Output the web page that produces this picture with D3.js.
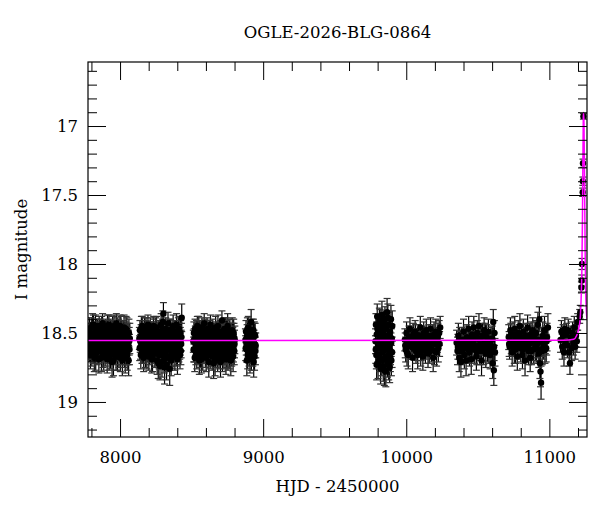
<!DOCTYPE html>
<html lang="en">
<head>
    <meta charset="UTF-8">
    <title>OGLE-2026-BLG-0864</title>
    <script src="https://d3js.org/d3.v7.min.js"></script>
    <style>
        body { margin: 0; background: #fff; }
        text { font-family: "DejaVu Serif", serif; fill: #000; }
        .axis text { font-size: 16.5px; }
    </style>
</head>
<body>
<svg width="600" height="512"></svg>
<script>

// photometry per observing season: [HJD-2450000, I mag, error]
const season1 = [[7780,18.55,.08],[7782,18.60,.09],[7784,18.50,.07],[7786,18.47,.08],[7788,18.62,.09],[7791,18.53,.08],[7793,18.66,.10],[7795,18.58,.08],[7797,18.51,.08],[7799,18.46,.07],[7801,18.57,.09],[7803,18.65,.09],[7806,18.52,.08],[7808,18.44,.08],[7810,18.57,.08],[7812,18.63,.09],[7814,18.44,.07],[7816,18.54,.08],[7818,18.60,.09],[7820,18.68,.10],[7822,18.54,.08],[7824,18.59,.09],[7826,18.49,.07],[7828,18.45,.08],[7830,18.67,.10],[7832,18.61,.09],[7834,18.56,.08],[7836,18.52,.08],[7838,18.47,.07],[7840,18.64,.09],[7842,18.59,.08],[7844,18.48,.08],[7846,18.52,.08],[7848,18.57,.09],[7850,18.63,.09],[7852,18.69,.10],[7854,18.45,.07],[7856,18.51,.08],[7858,18.56,.08],[7860,18.48,.08],[7862,18.61,.09],[7864,18.55,.08],[7866,18.50,.08],[7868,18.62,.09],[7870,18.68,.10],[7872,18.46,.08],[7874,18.54,.08],[7876,18.59,.09],[7878,18.43,.07],[7880,18.65,.10],[7882,18.58,.08],[7884,18.50,.08],[7886,18.66,.11],[7888,18.55,.08],[7890,18.51,.08],[7892,18.61,.09],[7894,18.57,.08],[7896,18.64,.10],[7898,18.47,.07],[7900,18.53,.08],[7902,18.62,.09],[7904,18.49,.08],[7906,18.55,.08],[7908,18.59,.09],[7910,18.69,.10],[7912,18.45,.08],[7914,18.49,.08],[7916,18.63,.09],[7918,18.58,.08],[7920,18.52,.08],[7922,18.44,.07],[7924,18.67,.10],[7926,18.60,.09],[7928,18.56,.08],[7930,18.53,.08],[7932,18.48,.08],[7934,18.66,.10],[7936,18.59,.09],[7938,18.48,.07],[7940,18.54,.08],[7942,18.56,.08],[7944,18.71,.11],[7946,18.62,.09],[7948,18.46,.08],[7950,18.51,.08],[7952,18.58,.09],[7954,18.70,.11],[7956,18.53,.08],[7958,18.45,.08],[7960,18.61,.09],[7962,18.57,.08],[7964,18.50,.08],[7966,18.64,.09],[7968,18.55,.08],[7970,18.50,.08],[7972,18.67,.10],[7974,18.43,.07],[7976,18.52,.08],[7978,18.59,.08],[7980,18.47,.08],[7982,18.67,.10],[7984,18.60,.09],[7986,18.53,.08],[7988,18.56,.09],[7990,18.48,.08],[7992,18.65,.10],[7994,18.61,.09],[7996,18.51,.08],[7998,18.56,.08],[8000,18.45,.08],[8002,18.68,.10],[8004,18.58,.09],[8006,18.46,.08],[8008,18.63,.10],[8010,18.58,.09],[8012,18.49,.08],[8014,18.52,.08],[8016,18.70,.11],[8018,18.63,.10],[8020,18.55,.09],[8022,18.49,.08],[8024,18.61,.10],[8026,18.57,.09],[8028,18.46,.09],[8030,18.65,.10],[8032,18.54,.09],[8034,18.51,.09],[8036,18.68,.11],[8038,18.60,.10],[8040,18.53,.09],[8042,18.47,.09],[8044,18.63,.10],[8046,18.55,.10],[8048,18.49,.10],[8050,18.66,.11],[8052,18.58,.10],[8054,18.53,.10],[8056,18.62,.11],[8058,18.59,.11],[8060,18.70,.11],[8062,18.50,.10],[8064,18.56,.10],[8066,18.62,.11],[8068,18.54,.11]];

const season2 = [[8135,18.54,.08],[8137,18.61,.09],[8139,18.48,.07],[8141,18.56,.08],[8143,18.60,.09],[8145,18.66,.10],[8147,18.52,.08],[8149,18.46,.08],[8151,18.57,.08],[8153,18.63,.09],[8155,18.45,.07],[8157,18.55,.08],[8159,18.63,.09],[8161,18.58,.09],[8163,18.51,.08],[8165,18.68,.10],[8167,18.58,.08],[8169,18.49,.08],[8171,18.46,.07],[8173,18.53,.08],[8175,18.61,.09],[8177,18.65,.10],[8179,18.55,.08],[8181,18.47,.08],[8183,18.49,.08],[8185,18.59,.09],[8187,18.66,.10],[8189,18.56,.08],[8191,18.53,.08],[8193,18.62,.09],[8195,18.44,.07],[8197,18.50,.08],[8199,18.59,.08],[8201,18.67,.10],[8203,18.52,.08],[8205,18.57,.09],[8207,18.64,.09],[8209,18.54,.08],[8211,18.47,.08],[8213,18.60,.09],[8215,18.56,.08],[8217,18.50,.08],[8219,18.62,.09],[8221,18.69,.10],[8223,18.50,.08],[8225,18.57,.08],[8227,18.68,.10],[8229,18.61,.09],[8231,18.54,.08],[8233,18.48,.08],[8235,18.45,.07],[8237,18.63,.09],[8239,18.58,.08],[8241,18.52,.08],[8243,18.65,.10],[8245,18.59,.09],[8247,18.51,.08],[8249,18.47,.08],[8251,18.57,.08],[8253,18.64,.10],[8255,18.46,.08],[8257,18.55,.08],[8259,18.70,.10],[8261,18.61,.09],[8263,18.55,.08],[8265,18.50,.08],[8267,18.72,.11],[8269,18.58,.09],[8271,18.49,.08],[8273,18.66,.10],[8275,18.60,.09],[8277,18.53,.08],[8279,18.74,.10],[8281,18.62,.09],[8283,18.53,.08],[8285,18.57,.09],[8287,18.44,.08],[8289,18.51,.08],[8291,18.66,.10],[8293,18.71,.11],[8295,18.57,.08],[8297,18.48,.08],[8299,18.42,.08],[8301,18.60,.09],[8303,18.36,.08],[8305,18.54,.09],[8307,18.62,.09],[8309,18.69,.10],[8311,18.75,.12],[8313,18.58,.09],[8315,18.51,.08],[8317,18.64,.10],[8319,18.47,.08],[8321,18.55,.09],[8323,18.59,.09],[8325,18.73,.11],[8327,18.68,.10],[8329,18.50,.08],[8331,18.55,.08],[8333,18.62,.09],[8335,18.43,.08],[8337,18.57,.09],[8339,18.61,.09],[8341,18.67,.10],[8343,18.52,.08],[8345,18.48,.08],[8347,18.76,.12],[8349,18.60,.09],[8351,18.48,.08],[8353,18.54,.09],[8355,18.58,.09],[8357,18.70,.11],[8359,18.64,.10],[8361,18.56,.09],[8363,18.50,.08],[8365,18.61,.10],[8367,18.56,.09],[8369,18.66,.10],[8371,18.45,.08],[8373,18.53,.09],[8375,18.62,.09],[8377,18.57,.09],[8379,18.53,.08],[8381,18.49,.08],[8383,18.67,.10],[8385,18.60,.10],[8387,18.49,.08],[8389,18.55,.09],[8391,18.58,.09],[8393,18.64,.10],[8395,18.44,.08],[8397,18.52,.09],[8399,18.63,.10],[8401,18.69,.11],[8403,18.55,.09],[8405,18.60,.10],[8407,18.48,.09],[8409,18.54,.09],[8411,18.61,.10],[8413,18.47,.09],[8415,18.52,.09],[8417,18.59,.10],[8419,18.66,.10],[8421,18.56,.10],[8423,18.50,.09],[8425,18.63,.10],[8427,18.58,.10],[8429,18.53,.10],[8431,18.39,.10]];

const season3 = [[8512,18.56,.08],[8514,18.62,.09],[8516,18.50,.08],[8518,18.55,.08],[8520,18.62,.09],[8522,18.68,.10],[8524,18.47,.07],[8526,18.53,.08],[8528,18.58,.08],[8530,18.64,.09],[8532,18.53,.08],[8534,18.49,.08],[8536,18.66,.10],[8538,18.59,.09],[8540,18.45,.07],[8542,18.52,.08],[8544,18.57,.08],[8546,18.63,.09],[8548,18.51,.08],[8550,18.46,.08],[8552,18.63,.09],[8554,18.70,.10],[8556,18.48,.07],[8558,18.55,.08],[8560,18.59,.08],[8562,18.65,.10],[8564,18.54,.08],[8566,18.50,.08],[8568,18.69,.10],[8570,18.60,.09],[8572,18.46,.07],[8574,18.52,.08],[8576,18.56,.08],[8578,18.67,.10],[8580,18.61,.09],[8582,18.57,.08],[8584,18.50,.08],[8586,18.63,.09],[8588,18.43,.07],[8590,18.54,.08],[8592,18.58,.08],[8594,18.48,.08],[8596,18.65,.10],[8598,18.59,.09],[8600,18.52,.08],[8602,18.68,.10],[8604,18.57,.08],[8606,18.53,.08],[8608,18.47,.08],[8610,18.61,.09],[8612,18.62,.09],[8614,18.50,.08],[8616,18.55,.08],[8618,18.64,.10],[8620,18.71,.11],[8622,18.58,.09],[8624,18.49,.08],[8626,18.54,.08],[8628,18.58,.08],[8630,18.66,.10],[8632,18.44,.07],[8634,18.52,.08],[8636,18.60,.09],[8638,18.56,.09],[8640,18.53,.08],[8642,18.62,.09],[8644,18.67,.10],[8646,18.51,.08],[8648,18.48,.08],[8650,18.59,.09],[8652,18.56,.08],[8654,18.72,.11],[8656,18.63,.09],[8658,18.55,.08],[8660,18.51,.08],[8662,18.60,.09],[8664,18.70,.11],[8666,18.53,.08],[8668,18.46,.08],[8670,18.65,.10],[8672,18.57,.08],[8674,18.50,.08],[8676,18.64,.09],[8678,18.59,.09],[8680,18.52,.08],[8682,18.68,.10],[8684,18.45,.08],[8686,18.55,.08],[8688,18.59,.09],[8690,18.50,.08],[8692,18.66,.10],[8694,18.61,.09],[8696,18.54,.08],[8698,18.57,.09],[8700,18.49,.08],[8702,18.71,.11],[8704,18.61,.09],[8706,18.52,.08],[8708,18.56,.08],[8710,18.63,.10],[8712,18.41,.07],[8714,18.58,.09],[8716,18.68,.10],[8718,18.55,.09],[8720,18.51,.08],[8722,18.62,.10],[8724,18.58,.09],[8726,18.66,.10],[8728,18.47,.08],[8730,18.54,.09],[8732,18.63,.10],[8734,18.59,.09],[8736,18.53,.09],[8738,18.48,.09],[8740,18.69,.11],[8742,18.60,.10],[8744,18.50,.09],[8746,18.65,.10],[8748,18.57,.09],[8750,18.52,.09],[8752,18.45,.09],[8754,18.67,.10],[8756,18.62,.10],[8758,18.56,.09],[8760,18.54,.09],[8762,18.49,.09],[8764,18.66,.10],[8766,18.59,.10],[8768,18.49,.09],[8770,18.55,.09],[8772,18.59,.10],[8774,18.70,.11],[8776,18.52,.09],[8778,18.57,.10],[8780,18.64,.10],[8782,18.60,.10],[8784,18.48,.09],[8786,18.53,.10],[8788,18.56,.10],[8790,18.67,.11],[8792,18.61,.10],[8794,18.50,.10],[8796,18.53,.10],[8798,18.63,.10],[8800,18.58,.10],[8802,18.55,.10]];

const season4 = [[8876,18.55,.08],[8878,18.61,.09],[8880,18.49,.08],[8882,18.57,.09],[8884,18.62,.09],[8886,18.70,.11],[8888,18.52,.08],[8890,18.47,.08],[8892,18.66,.10],[8894,18.59,.09],[8896,18.46,.08],[8898,18.54,.08],[8900,18.58,.09],[8902,18.64,.10],[8904,18.53,.08],[8906,18.50,.08],[8908,18.69,.10],[8910,18.61,.09],[8912,18.50,.08],[8914,18.56,.09],[8916,18.42,.09],[8918,18.67,.10],[8920,18.60,.09],[8922,18.48,.08],[8924,18.55,.08],[8926,18.62,.10],[8928,18.64,.10],[8930,18.52,.09],[8932,18.48,.08],[8934,18.71,.11],[8936,18.57,.09],[8938,18.51,.09],[8940,18.67,.10],[8942,18.59,.09],[8944,18.52,.09],[8946,18.63,.10],[8948,18.59,.09]];

const season5 = [[9785,18.56,.09],[9788,18.44,.08],[9791,18.66,.10],[9794,18.51,.09],[9797,18.38,.09],[9800,18.61,.10],[9803,18.72,.11],[9806,18.48,.09],[9809,18.57,.09],[9812,18.41,.09],[9815,18.68,.10],[9818,18.53,.09],[9821,18.76,.11],[9824,18.46,.09],[9827,18.60,.10],[9830,18.37,.10],[9833,18.64,.10],[9836,18.50,.09],[9839,18.74,.11],[9842,18.43,.09],[9845,18.58,.10],[9848,18.69,.10],[9851,18.40,.09],[9854,18.55,.10],[9857,18.78,.11],[9860,18.47,.09],[9863,18.62,.10],[9866,18.35,.10],[9869,18.71,.11],[9872,18.52,.09],[9875,18.66,.10],[9878,18.44,.09],[9881,18.59,.10],[9884,18.75,.11],[9887,18.49,.10],[9890,18.63,.10],[9893,18.40,.10],[9896,18.70,.11],[9899,18.54,.10],[9902,18.45,.11],
    [9787,18.62,.10],[9793,18.73,.11],[9799,18.47,.09],[9805,18.58,.10],[9811,18.66,.10],[9817,18.42,.09],[9823,18.55,.09],[9829,18.70,.11],[9835,18.61,.10],[9841,18.51,.09],[9847,18.77,.11],[9853,18.45,.09],[9859,18.67,.10],[9865,18.56,.10],[9871,18.39,.10],[9877,18.73,.11],[9883,18.52,.10],[9889,18.68,.10],[9895,18.57,.10],[9901,18.64,.11]];

const season6 = [[9990,18.55,.08],[9996,18.62,.09],[10002,18.50,.08],[10008,18.58,.08],[10014,18.66,.10],[10020,18.53,.08],[10026,18.47,.08],[10032,18.60,.09],[10038,18.56,.08],[10044,18.68,.10],[10050,18.51,.08],[10056,18.59,.09],[10062,18.49,.08],[10068,18.63,.09],[10074,18.55,.08],[10080,18.66,.10],[10086,18.52,.08],[10092,18.58,.09],[10098,18.46,.08],[10104,18.61,.09],[10110,18.54,.08],[10116,18.67,.10],[10122,18.50,.08],[10128,18.57,.09],[10134,18.63,.09],[10140,18.48,.08],[10146,18.56,.09],[10152,18.65,.10],[10158,18.52,.08],[10164,18.59,.09],[10170,18.47,.08],[10176,18.62,.09],[10182,18.54,.09],[10188,18.68,.10],[10194,18.51,.09],[10200,18.58,.09],[10206,18.49,.09],[10212,18.64,.10],[10218,18.55,.09],[10224,18.61,.10],[10230,18.50,.09],[10237,18.46,.08],
    [9993,18.59,.09],[10005,18.64,.10],[10017,18.57,.09],[10029,18.53,.08],[10041,18.60,.09],[10053,18.56,.09],[10065,18.52,.08],[10077,18.61,.09],[10089,18.55,.08],[10101,18.64,.10],[10113,18.58,.09],[10125,18.53,.08],[10137,18.60,.09],[10149,18.55,.09],[10161,18.62,.10],[10173,18.57,.09],[10185,18.52,.08],[10197,18.63,.10],[10209,18.56,.09],[10221,18.52,.09],[10233,18.58,.09]];

const season7 = [[10352,18.57,.09],[10358,18.63,.10],[10364,18.52,.09],[10370,18.68,.10],[10376,18.58,.09],[10382,18.71,.11],[10388,18.55,.09],[10394,18.62,.10],[10400,18.49,.09],[10406,18.66,.10],[10412,18.56,.09],[10418,18.70,.11],[10424,18.53,.09],[10430,18.60,.09],[10436,18.47,.09],[10442,18.64,.10],[10448,18.55,.09],[10454,18.69,.11],[10460,18.51,.09],[10466,18.58,.09],[10472,18.46,.08],[10478,18.62,.10],[10484,18.54,.09],[10490,18.67,.10],[10496,18.50,.09],[10502,18.59,.09],[10508,18.45,.09],[10514,18.63,.10],[10520,18.56,.09],[10526,18.70,.11],[10532,18.52,.09],[10538,18.60,.10],[10544,18.48,.09],[10550,18.57,.09],[10556,18.65,.10],[10562,18.53,.09],[10568,18.61,.10],[10574,18.49,.09],[10580,18.58,.09],[10586,18.66,.10],[10592,18.55,.09],[10598,18.62,.10],[10604,18.72,.11],[10608,18.42,.09],[10612,18.77,.11],[10616,18.50,.09],[10620,18.64,.10],
    [10361,18.60,.09],[10373,18.55,.09],[10385,18.63,.10],[10397,18.57,.09],[10409,18.60,.10],[10421,18.54,.09],[10433,18.62,.10],[10445,18.58,.09],[10457,18.61,.10],[10469,18.55,.09],[10481,18.59,.09],[10493,18.63,.10],[10505,18.54,.09],[10517,18.60,.10],[10529,18.57,.09],[10541,18.63,.10],[10553,18.52,.09],[10565,18.58,.09],[10577,18.62,.10],[10589,18.57,.09],[10601,18.54,.09],[10614,18.60,.10]];

const season8 = [[10716,18.53,.09],[10722,18.60,.09],[10728,18.48,.09],[10734,18.56,.09],[10740,18.64,.10],[10746,18.51,.09],[10752,18.58,.09],[10758,18.47,.09],[10764,18.62,.10],[10770,18.54,.09],[10776,18.67,.10],[10782,18.50,.09],[10788,18.57,.09],[10794,18.45,.09],[10800,18.61,.10],[10806,18.53,.09],[10812,18.66,.10],[10818,18.49,.09],[10824,18.58,.09],[10830,18.70,.11],[10836,18.52,.09],[10842,18.59,.09],[10848,18.46,.09],[10854,18.63,.10],[10860,18.55,.09],[10866,18.68,.10],[10872,18.51,.09],[10878,18.57,.09],[10884,18.48,.09],[10890,18.62,.10],[10896,18.54,.09],[10902,18.60,.10],[10908,18.50,.09],[10914,18.58,.10],[10920,18.44,.09],[10926,18.65,.10],[10930,18.40,.09],[10934,18.72,.11],[10938,18.78,.11],[10942,18.86,.12],[10946,18.56,.10],[10950,18.63,.10],[10954,18.52,.10],[10960,18.59,.10],[10966,18.48,.10],[10972,18.55,.10],[10978,18.61,.10],[10984,18.53,.10],[10990,18.46,.10],
    [10719,18.58,.09],[10731,18.52,.09],[10743,18.57,.09],[10755,18.62,.10],[10767,18.55,.09],[10779,18.60,.09],[10791,18.53,.09],[10803,18.58,.09],[10815,18.62,.10],[10827,18.55,.09],[10839,18.56,.09],[10851,18.60,.10],[10863,18.52,.09],[10875,18.63,.10],[10887,18.56,.09],[10899,18.51,.09],[10911,18.61,.10],[10923,18.55,.09],[10936,18.62,.10],[10957,18.57,.10],[10969,18.62,.10],[10981,18.56,.10]];

const season9 = [[11078,18.55,.09],[11084,18.49,.08],[11090,18.60,.09],[11096,18.52,.08],[11102,18.64,.10],[11108,18.47,.08],[11114,18.57,.09],[11120,18.51,.08],[11126,18.59,.09],[11132,18.48,.08],[11138,18.64,.10],[11144,18.72,.08],[11150,18.53,.08],[11156,18.61,.09],[11162,18.50,.08],[11168,18.57,.09],[11174,18.46,.08],[11180,18.60,.09],[11186,18.52,.08],[11192,18.56,.08],
    [11198,18.42,.06],[11212,18.38,.05],[11216,18.35,.05],[11224,18.17,.04],[11226,18.12,.04],[11228,18.00,.04],[11233,17.48,.03],[11234,17.40,.03],[11235,17.27,.03],[11238,16.93,.02]];

// model light curve
const modelHJD = [7776, 11100, 11170, 11190, 11205, 11215, 11222, 11227, 11231, 11234, 11237, 11239, 11242, 11246, 11250, 11254, 11258, 11263];
const modelMag = [18.555, 18.553, 18.545, 18.52, 18.47, 18.40, 18.25, 18.05, 17.70, 17.30, 16.95, 16.90, 16.98, 17.40, 17.90, 18.20, 18.33, 18.40];

const xMajor = [8000, 9000, 10000, 11000];
const xMinor = [7800, 8200, 8400, 8600, 8800, 9200, 9400, 9600, 9800, 10200, 10400, 10600, 10800, 11200];
const yMajor = [17, 17.5, 18, 18.5, 19];
const yMinor = [16.6, 16.7, 16.8, 16.9, 17.1, 17.2, 17.3, 17.4, 17.6, 17.7, 17.8, 17.9, 18.1, 18.2, 18.3, 18.4, 18.6, 18.7, 18.8, 18.9, 19.1, 19.2];

const title = "OGLE-2026-BLG-0864";
const xLabel = "HJD - 2450000";
const yLabel = "I magnitude";

const photometry = [].concat(season1, season2, season3, season4, season5, season6, season7, season8, season9)
    .map(d => ({ t: d[0], m: d[1], e: d[2] }));

const svg = d3.select("svg");
const pLeft = 88, pRight = 587, pTop = 62, pBottom = 437;

const x = d3.scaleLinear().domain([7776, 11263]).range([pLeft, pRight]);
const y = d3.scaleLinear().domain([16.536, 19.254]).range([pTop, pBottom]);

svg.append("defs").append("clipPath").attr("id", "plotclip")
    .append("rect")
    .attr("x", pLeft).attr("y", pTop)
    .attr("width", pRight - pLeft).attr("height", pBottom - pTop);

const plot = svg.append("g").attr("clip-path", "url(#plotclip)");

// error bars
const bars = plot.append("g").attr("stroke", "#000").attr("stroke-width", 1.2);
bars.selectAll("line.bar").data(photometry).join("line")
    .attr("class", "bar")
    .attr("x1", d => x(d.t)).attr("x2", d => x(d.t))
    .attr("y1", d => y(d.m - d.e)).attr("y2", d => y(d.m + d.e));
bars.selectAll("line.capt").data(photometry).join("line")
    .attr("class", "capt")
    .attr("stroke", "#333")
    .attr("x1", d => x(d.t) - 3.5).attr("x2", d => x(d.t) + 3.5)
    .attr("y1", d => y(d.m - d.e)).attr("y2", d => y(d.m - d.e));
bars.selectAll("line.capb").data(photometry).join("line")
    .attr("class", "capb")
    .attr("stroke", "#333")
    .attr("x1", d => x(d.t) - 3.5).attr("x2", d => x(d.t) + 3.5)
    .attr("y1", d => y(d.m + d.e)).attr("y2", d => y(d.m + d.e));

// points
plot.append("g").selectAll("circle").data(photometry).join("circle")
    .attr("cx", d => x(d.t))
    .attr("cy", d => y(d.m))
    .attr("r", 3.2)
    .attr("fill", "#000");

// model
const model = modelHJD.map((t, i) => [t, modelMag[i]]);
plot.append("path")
    .datum(model)
    .attr("fill", "none")
    .attr("stroke", "#ff00ff")
    .attr("stroke-width", 1.5)
    .attr("d", d3.line().x(d => x(d[0])).y(d => y(d[1])).curve(d3.curveMonotoneX));

// axes with inward ticks on all four sides
function styleAxis(g) {
    g.select(".domain").remove();
    g.selectAll(".tick line").attr("stroke", "#000").attr("stroke-width", 1);
}

svg.append("g").attr("class", "axis")
    .attr("transform", `translate(0,${pBottom})`)
    .call(d3.axisBottom(x).tickValues(xMajor).tickSize(-18).tickPadding(14).tickFormat(d => d))
    .call(styleAxis);
svg.append("g").attr("class", "axis")
    .attr("transform", `translate(0,${pBottom})`)
    .call(d3.axisBottom(x).tickValues(xMinor).tickSize(-9).tickFormat(""))
    .call(styleAxis);
svg.append("g").attr("class", "axis")
    .attr("transform", `translate(0,${pTop})`)
    .call(d3.axisTop(x).tickValues(xMajor).tickSize(-18).tickFormat(""))
    .call(styleAxis);
svg.append("g").attr("class", "axis")
    .attr("transform", `translate(0,${pTop})`)
    .call(d3.axisTop(x).tickValues(xMinor).tickSize(-9).tickFormat(""))
    .call(styleAxis);

svg.append("g").attr("class", "axis")
    .attr("transform", `translate(${pLeft},0)`)
    .call(d3.axisLeft(y).tickValues(yMajor).tickSize(-18).tickPadding(10).tickFormat(d => d))
    .call(styleAxis);
svg.append("g").attr("class", "axis")
    .attr("transform", `translate(${pLeft},0)`)
    .call(d3.axisLeft(y).tickValues(yMinor).tickSize(-9).tickFormat(""))
    .call(styleAxis);
svg.append("g").attr("class", "axis")
    .attr("transform", `translate(${pRight},0)`)
    .call(d3.axisRight(y).tickValues(yMajor).tickSize(-18).tickFormat(""))
    .call(styleAxis);
svg.append("g").attr("class", "axis")
    .attr("transform", `translate(${pRight},0)`)
    .call(d3.axisRight(y).tickValues(yMinor).tickSize(-9).tickFormat(""))
    .call(styleAxis);

// frame
svg.append("rect")
    .attr("x", pLeft).attr("y", pTop)
    .attr("width", pRight - pLeft).attr("height", pBottom - pTop)
    .attr("fill", "none").attr("stroke", "#000").attr("stroke-width", 1.2);

// labels
svg.append("text")
    .attr("x", (pLeft + pRight) / 2).attr("y", 38)
    .attr("text-anchor", "middle")
    .style("font-size", "16.5px")
    .text(title);

svg.append("text")
    .attr("x", (pLeft + pRight) / 2).attr("y", 492)
    .attr("text-anchor", "middle")
    .style("font-size", "16.5px")
    .text(xLabel);

svg.append("text")
    .attr("transform", `translate(27,${(pTop + pBottom) / 2}) rotate(-90)`)
    .attr("text-anchor", "middle")
    .style("font-size", "16.5px")
    .text(yLabel);

</script>
</body>
</html>
